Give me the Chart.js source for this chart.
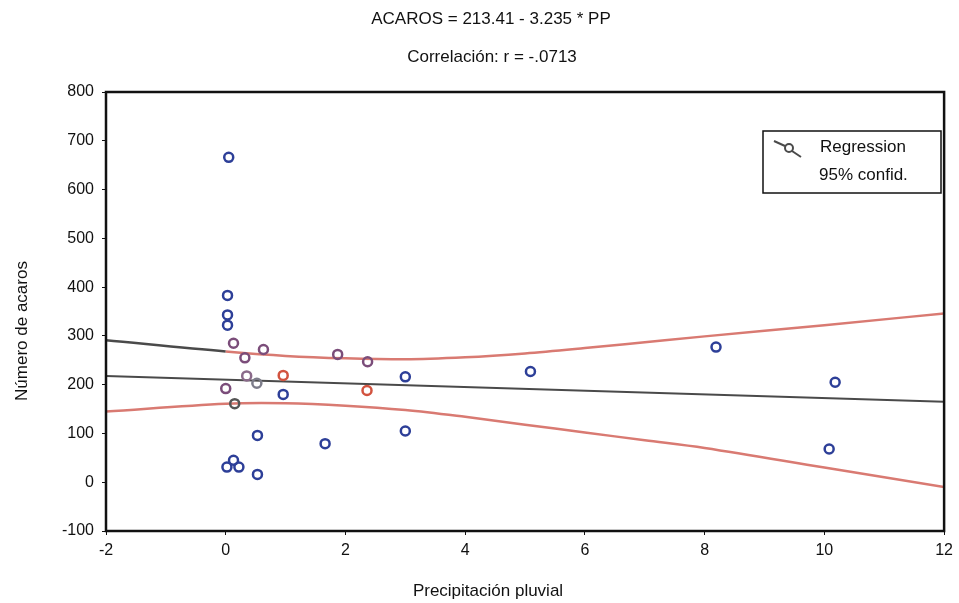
<!DOCTYPE html>
<html>
<head>
<meta charset="utf-8">
<script src="https://cdn.jsdelivr.net/npm/chart.js@4/dist/chart.umd.min.js"></script>
<style>
  html, body { margin: 0; padding: 0; background: #fff; }
  #wrap { width: 959px; height: 603px; }
</style>
</head>
<body>
<div id="wrap"><canvas id="chart" width="959" height="603"></canvas></div>
<script>
// ====== DATA ======
const ppValues = [0.05, 0.03, 0.03, 0.03, 0.13, 0.32, 0.63, 1.87, 2.37, 0.35, 0.52, 0.96, 0.0, 0.15,
                  0.96, 2.36, 0.53, 1.66, 0.02, 0.13, 0.22, 0.53, 3.0, 3.0, 5.09, 8.19, 10.18, 10.08];
const acarosValues = [666, 383, 343, 322, 285, 255, 272, 262, 247, 218, 203, 219, 192, 161,
                      180, 188, 96, 79, 31, 45, 31, 16, 216, 105, 227, 277, 205, 68];

const regX = [-2, 12];
const regY = [218, 165];

const bandX = [-2, 0, 1, 2, 3, 4, 5, 6, 7, 8, 10, 12];
const upperY = [291, 268, 259, 254, 252, 256, 264, 275, 287, 299, 322, 346];
const lowerY = [145, 161, 162, 157, 148, 134, 118, 102, 86, 70, 30, -10];

const xTicks = [-2, 0, 2, 4, 6, 8, 10, 12];
const yTicks = [-100, 0, 100, 200, 300, 400, 500, 600, 700, 800];

const titleLine1 = "ACAROS = 213.41 - 3.235 * PP";
const titleLine2 = "Correlación: r = -.0713";
const xTitle = "Precipitación pluvial";
const yTitle = "Número de acaros";
const legendLabels = ["Regression", "95% confid."];

// marker tints seen on the scan (overlaps with the lines)
const tint = { 4: "#7b4d7a", 5: "#7b4d7a", 6: "#7b4d7a", 7: "#7b4d7a", 8: "#7b4d7a", 9: "#8a6a8a",
               10: "#7d7d8a", 11: "#d2533f", 12: "#7b4d7a", 13: "#555", 15: "#d2533f" };

const FONT = "'Liberation Sans', Arial, sans-serif";
const BLUE = "#2d3f98";
const RED = "#d97a72";
const GREY = "#4a4a4a";

const toXY = (xs, ys) => xs.map((x, i) => ({ x: x, y: ys[i] }));

// ====== TITLES / FRAME / LEGEND ======
const decorPlugin = {
    id: "decor",
    afterDraw(chart) {
        const ctx = chart.ctx;
        const a = chart.chartArea;
        ctx.save();
        ctx.fillStyle = "#111";
        ctx.textAlign = "center";
        ctx.textBaseline = "middle";
        ctx.font = "17px " + FONT;
        ctx.fillText(titleLine1, 491, 19);
        ctx.fillText(titleLine2, 492, 57);

        // axis titles
        ctx.fillText(xTitle, 488, 591);
        ctx.save();
        ctx.translate(22, 331);
        ctx.rotate(-Math.PI / 2);
        ctx.fillText(yTitle, 0, 0);
        ctx.restore();

        // frame
        ctx.strokeStyle = "#111";
        ctx.lineWidth = 2.5;
        ctx.strokeRect(a.left, a.top, a.right - a.left, a.bottom - a.top);

        // legend
        const lx = 763, ly = 131, lw = 178, lh = 62;
        ctx.fillStyle = "#fff";
        ctx.fillRect(lx, ly, lw, lh);
        ctx.lineWidth = 1.5;
        ctx.strokeRect(lx, ly, lw, lh);
        ctx.strokeStyle = GREY;
        ctx.lineWidth = 2;
        ctx.beginPath();
        ctx.moveTo(774, 141);
        ctx.lineTo(785, 146);
        ctx.moveTo(792, 151);
        ctx.lineTo(801, 157);
        ctx.stroke();
        ctx.beginPath();
        ctx.arc(789, 148, 4, 0, Math.PI * 2);
        ctx.stroke();
        ctx.fillStyle = "#111";
        ctx.textAlign = "left";
        ctx.font = "17px " + FONT;
        ctx.fillText(legendLabels[0], 820, 147);
        ctx.fillText(legendLabels[1], 819, 175);
        ctx.restore();
    }
};

const ctx = document.getElementById("chart").getContext("2d");
new Chart(ctx, {
    type: "scatter",
    data: {
        datasets: [
            {
                label: "Upper 95%",
                type: "line",
                data: toXY(bandX, upperY),
                borderColor: RED,
                borderWidth: 2.5,
                pointRadius: 0,
                cubicInterpolationMode: "monotone",
                segment: { borderColor: c => (c.p0.parsed.x < 0 ? GREY : RED) },
                order: 2
            },
            {
                label: "Lower 95%",
                type: "line",
                data: toXY(bandX, lowerY),
                borderColor: RED,
                borderWidth: 2.5,
                pointRadius: 0,
                tension: 0.35,
                order: 2
            },
            {
                label: "Regression",
                type: "line",
                data: toXY(regX, regY),
                borderColor: GREY,
                borderWidth: 2,
                pointRadius: 0,
                order: 1
            },
            {
                label: "Acaros",
                data: toXY(ppValues, acarosValues),
                pointRadius: 4.5,
                pointBorderWidth: 2.5,
                pointBackgroundColor: "rgba(255,255,255,0)",
                pointBorderColor: c => tint[c.dataIndex] || BLUE,
                order: 0
            }
        ]
    },
    options: {
        responsive: false,
        animation: false,
        layout: { padding: { top: 92, right: 14, left: 0, bottom: 0 } },
        plugins: { legend: { display: false }, tooltip: { enabled: false } },
        scales: {
            x: {
                type: "linear",
                min: -2,
                max: 12,
                afterBuildTicks: s => { s.ticks = xTicks.map(v => ({ value: v })); },
                afterFit: s => { s.height = 72; },
                grid: { display: true, drawOnChartArea: false, tickLength: 4, color: "#111" },
                border: { display: false },
                ticks: { color: "#111", font: { family: FONT, size: 16 }, padding: 6 },
                title: { display: false }
            },
            y: {
                type: "linear",
                min: -100,
                max: 800,
                afterBuildTicks: s => { s.ticks = yTicks.map(v => ({ value: v })); },
                afterFit: s => { s.width = 106; },
                grid: { display: true, drawOnChartArea: false, tickLength: 4, color: "#111" },
                border: { display: false },
                ticks: { color: "#111", font: { family: FONT, size: 16 }, padding: 8 },
                title: { display: false }
            }
        }
    },
    plugins: [decorPlugin]
});
</script>
</body>
</html>
